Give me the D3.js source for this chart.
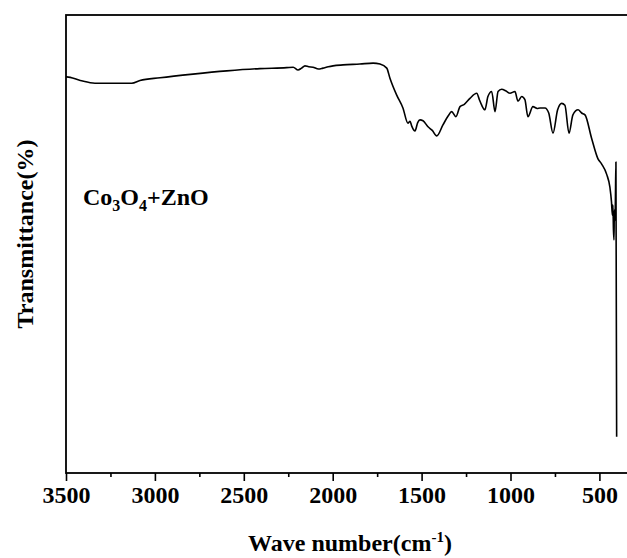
<!DOCTYPE html>
<html>
<head>
<meta charset="utf-8">
<script src="https://cdn.jsdelivr.net/npm/d3@7"></script>
<style>
  html, body { margin: 0; padding: 0; background: #fff; overflow: hidden; }
  svg { display: block; }
  text { font-family: "Liberation Serif", "Times New Roman", serif; font-weight: bold; fill: #000; }
</style>
</head>
<body>
<svg id="chart" width="627" height="558"></svg>
<script>
// FTIR spectrum of the Co3O4+ZnO sample
const wavenumber = [3500, 3496, 3420, 3337, 3230, 3130, 3084, 2971, 2786, 2596, 2409, 2259, 2222, 2195, 2175, 2156, 2135, 2111, 2080, 2055, 2025, 1998,
  1942, 1847, 1773, 1734, 1696, 1678, 1640, 1605, 1577, 1565, 1556, 1537, 1522, 1509, 1492, 1464, 1440, 1415, 1380,
  1350, 1331, 1307, 1284, 1260, 1228, 1190, 1175, 1162, 1144, 1127, 1106, 1087, 1070, 1050, 1025, 1003, 975, 958, 937,
  919, 902, 874, 850, 834, 806, 785, 761, 735, 712, 694, 671, 649, 620, 600, 581, 544, 508, 488, 459, 441, 432,
  427, 424, 421, 418, 416, 412, 410, 407, 403];
const transmittance = [86.5, 86.5, 85.7, 85.1, 85.1, 85.1, 85.7, 86.3, 87.1, 87.8, 88.3, 88.5, 88.6, 88.0, 88.4, 88.9, 88.7, 88.6, 88.2, 88.4, 88.7, 88.9,
  89.1, 89.3, 89.5, 89.3, 88.4, 86.2, 82.5, 79.7, 76.4, 76.8, 75.8, 74.7, 76.5, 77.1, 76.9, 75.6, 74.8, 73.6, 76.0,
  78.0, 78.9, 77.8, 80.0, 80.5, 81.8, 82.9, 81.5, 80.3, 79.3, 82.2, 83.3, 78.9, 83.3, 83.8, 83.4, 82.9, 83.3, 81.2, 82.2,
  81.5, 77.8, 80.0, 79.6, 79.7, 79.7, 78.6, 74.2, 79.3, 80.7, 80.3, 74.2, 78.2, 79.3, 78.6, 78.2, 73.1, 68.6, 67.5, 65.2, 62.4, 59.2,
  56.3, 58.5, 53.1, 50.9, 57.4, 55.2, 59.6, 67.9, 7.9];
const majorTicks = [3500, 3000, 2500, 2000, 1500, 1000, 500];
const minorTicks = [3250, 2750, 2250, 1750, 1250, 750];

const svg = d3.select("#chart");
const plotLeft = 66, plotTop = 15, plotBottom = 473;

const x = d3.scaleLinear().domain([3500, 300]).range([plotLeft, plotLeft + 3200 * (533.4 / 3000)]);
const y = d3.scaleLinear().domain([0, 100]).range([plotBottom, plotTop]);
const plotRight = x(300);

// frame
svg.append("rect")
  .attr("x", plotLeft).attr("y", plotTop)
  .attr("width", plotRight - plotLeft).attr("height", plotBottom - plotTop)
  .attr("fill", "none").attr("stroke", "#000").attr("stroke-width", 1.8);

// bottom axis: major ticks with labels, minor ticks without
const axisMajor = d3.axisBottom(x).tickValues(majorTicks).tickSize(8).tickPadding(5).tickFormat(d3.format("d"));
const gx = svg.append("g").attr("transform", `translate(0,${plotBottom})`).call(axisMajor);
gx.select(".domain").remove();
gx.selectAll("line").attr("stroke", "#000").attr("stroke-width", 1.6);
gx.selectAll("text").style("font-size", "24px").attr("font-family", null).attr("fill", "#000");

const axisMinor = d3.axisBottom(x).tickValues(minorTicks).tickSize(4).tickFormat("");
const gm = svg.append("g").attr("transform", `translate(0,${plotBottom})`).call(axisMinor);
gm.select(".domain").remove();
gm.selectAll("line").attr("stroke", "#000").attr("stroke-width", 1.6);

// spectrum
const pts = wavenumber.map((w, i) => [w, transmittance[i]]);
svg.append("path")
  .datum(pts)
  .attr("fill", "none")
  .attr("stroke", "#000")
  .attr("stroke-width", 1.6)
  .attr("stroke-linejoin", "round")
  .attr("d", d3.line().curve(d3.curveMonotoneX).x(d => x(d[0])).y(d => y(d[1])));

// axis titles
const xt = svg.append("text")
  .attr("x", 350).attr("y", 551)
  .attr("text-anchor", "middle")
  .style("font-size", "24px");
xt.append("tspan").text("Wave number(cm");
xt.append("tspan").attr("dy", -9).style("font-size", "15px").text("-1");
xt.append("tspan").attr("dy", 9).text(")");

svg.append("text")
  .attr("transform", "translate(33,234) rotate(-90)")
  .attr("text-anchor", "middle")
  .style("font-size", "24px")
  .text("Transmittance(%)");

// sample label
const lab = svg.append("text").attr("x", 83).attr("y", 205).style("font-size", "24px");
lab.append("tspan").text("Co");
lab.append("tspan").attr("dy", 6).style("font-size", "16px").text("3");
lab.append("tspan").attr("dy", -6).text("O");
lab.append("tspan").attr("dy", 6).style("font-size", "16px").text("4");
lab.append("tspan").attr("dy", -6).text("+ZnO");
</script>
</body>
</html>
